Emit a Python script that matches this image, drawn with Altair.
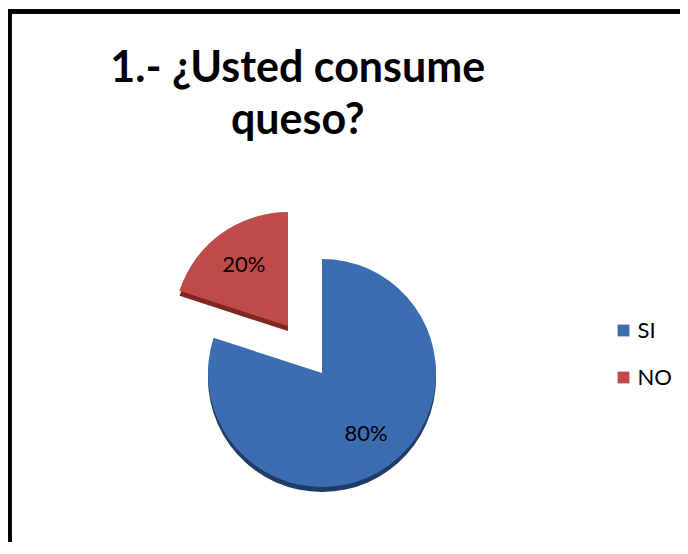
import altair as alt
import pandas as pd

# ---- data ----
categories = ["SI", "NO"]
values = [80, 20]
title_lines = ["1.- ¿Usted consume", "queso?"]

colors_top = ["#3C6DB0", "#BE4B48"]
colors_side = ["#1F3C66", "#7E2724"]

df = pd.DataFrame({"cat": categories, "value": values, "orden": list(range(len(categories)))})

W, H = 670.5, 530.5
CX, CY = 312.5, 361.5
R = 114
EXPLODE = 58
LABEL_R = 75
DEPTH = 5

base = alt.Chart(df).transform_joinaggregate(
    total="sum(value)"
).transform_window(
    cum="sum(value)", sort=[alt.SortField("orden")]
).transform_calculate(
    start="2*PI*(datum.cum - datum.value)/datum.total",
    end="2*PI*datum.cum/datum.total",
).transform_calculate(
    mid="(datum.start + datum.end)/2",
    ex=f"datum.cat == 'NO' ? {EXPLODE} : 0",
).transform_calculate(
    cx=f"{CX} + datum.ex*sin(datum.mid)",
    cy=f"{CY} - datum.ex*cos(datum.mid)",
).transform_calculate(
    cyd=f"datum.cy + {DEPTH}",
    lx=f"datum.cx + {LABEL_R}*sin(datum.mid)",
    ly=f"datum.cy - {LABEL_R}*cos(datum.mid)",
    pct="format(datum.value/datum.total, '.0%')",
)

side = base.mark_arc(radius=R).encode(
    theta=alt.Theta("start:Q", scale=None, stack=None),
    theta2="end:Q",
    x=alt.X("cx:Q", scale=None),
    y=alt.Y("cyd:Q", scale=None),
    color=alt.Color("cat:N", scale=alt.Scale(domain=categories, range=colors_side), legend=None),
)

top = base.mark_arc(radius=R).encode(
    theta=alt.Theta("start:Q", scale=None, stack=None),
    theta2="end:Q",
    x=alt.X("cx:Q", scale=None),
    y=alt.Y("cy:Q", scale=None),
    color=alt.Color(
        "cat:N",
        scale=alt.Scale(domain=categories, range=colors_top),
        legend=alt.Legend(
            title=None,
            orient="none",
            legendX=603,
            legendY=308,
            symbolType="square",
            symbolSize=140,
            symbolStrokeWidth=0,
            labelFont="Lato",
            labelFontSize=22,
            labelColor="black",
            labelOffset=3,
            rowPadding=25,
        ),
    ),
)

labels = base.mark_text(font="Lato", fontSize=22, color="black").encode(
    x=alt.X("lx:Q", scale=None),
    y=alt.Y("ly:Q", scale=None),
    text="pct:N",
)

frame = alt.Chart(df).mark_rect(fill=None, stroke="black", strokeWidth=4.5).encode(
    x=alt.value(0), x2=alt.value(W + 40), y=alt.value(0), y2=alt.value(H + 40)
)

chart = alt.layer(frame, side, top, labels).resolve_scale(
    color="independent"
).properties(
    width=W,
    height=H,
    padding={"left": 1.5, "top": 3.5, "right": 0, "bottom": 0},
    autosize=alt.AutoSizeParams(type="none"),
    background="white",
    title=alt.TitleParams(
        text=title_lines,
        font="Lato",
        fontSize=43,
        fontWeight="bold",
        color="black",
        lineHeight=52,
        anchor="middle",
        frame="group",
        orient="top",
        offset=-134,
        dx=-47,
    ),
).configure_view(stroke=None)

chart.save("out.html", embed_options={"renderer": "svg", "actions": False})
